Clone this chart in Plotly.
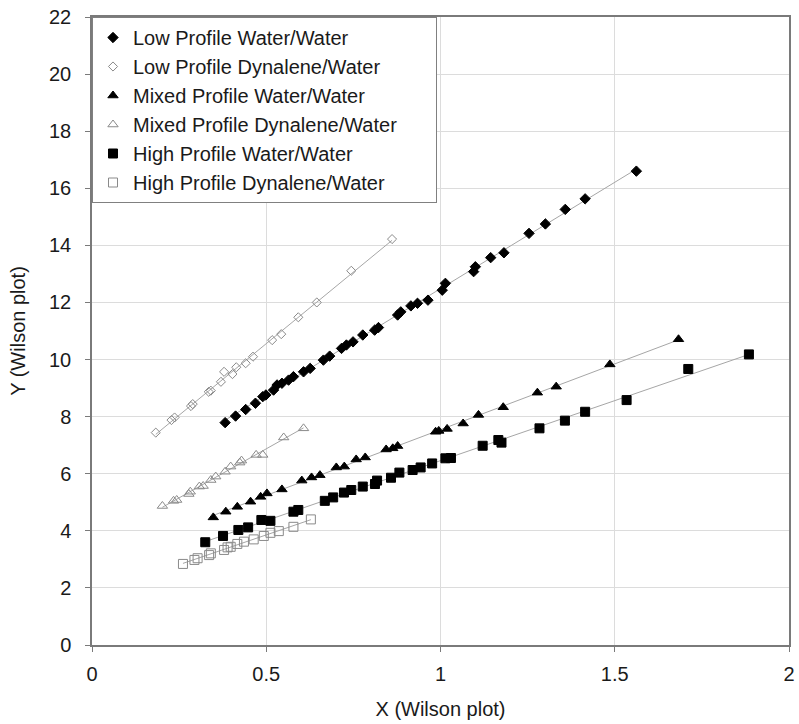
import numpy as np
import plotly.graph_objects as go

# ---- data ----
low_ww_x = [0.382, 0.412, 0.441, 0.469, 0.490, 0.499, 0.521, 0.531, 0.545, 0.564, 0.578, 0.607, 0.626,
            0.664, 0.682, 0.716, 0.730, 0.749, 0.777, 0.811, 0.822, 0.877, 0.886, 0.915, 0.934, 0.964,
            1.005, 1.014, 1.095, 1.100, 1.144, 1.182, 1.254, 1.301, 1.358, 1.415, 1.562]
low_ww_y = [7.79, 8.02, 8.25, 8.47, 8.70, 8.76, 8.93, 9.11, 9.17, 9.28, 9.40, 9.57, 9.69,
            9.98, 10.12, 10.39, 10.51, 10.62, 10.86, 11.03, 11.12, 11.56, 11.67, 11.88, 11.97, 12.08,
            12.43, 12.67, 13.08, 13.25, 13.57, 13.74, 14.42, 14.75, 15.26, 15.63, 16.60]

low_dw_x = [0.183, 0.228, 0.237, 0.284, 0.289, 0.335, 0.341, 0.370, 0.379, 0.403, 0.414, 0.441, 0.462,
            0.517, 0.543, 0.592, 0.645, 0.744, 0.861]
low_dw_y = [7.44, 7.88, 7.97, 8.37, 8.44, 8.87, 8.91, 9.22, 9.57, 9.49, 9.73, 9.87, 10.10,
            10.68, 10.89, 11.48, 12.00, 13.11, 14.22]

mix_ww_x = [0.348, 0.384, 0.417, 0.455, 0.484, 0.502, 0.545, 0.602, 0.630, 0.654, 0.701, 0.724, 0.758,
            0.784, 0.844, 0.863, 0.877, 0.986, 0.995, 1.019, 1.065, 1.109, 1.180, 1.278, 1.332, 1.486, 1.683]
mix_ww_y = [4.47, 4.67, 4.84, 5.02, 5.19, 5.31, 5.45, 5.76, 5.87, 5.95, 6.22, 6.25, 6.50,
            6.57, 6.85, 6.89, 6.97, 7.47, 7.50, 7.57, 7.76, 8.06, 8.33, 8.84, 9.05, 9.83, 10.71]

mix_dw_x = [0.202, 0.234, 0.243, 0.278, 0.282, 0.308, 0.319, 0.341, 0.355, 0.382, 0.398, 0.424, 0.429,
            0.471, 0.490, 0.550, 0.607]
mix_dw_y = [4.87, 5.05, 5.08, 5.29, 5.37, 5.55, 5.57, 5.78, 5.90, 6.07, 6.25, 6.39, 6.46,
            6.66, 6.66, 7.27, 7.59]

high_ww_x = [0.325, 0.376, 0.420, 0.448, 0.486, 0.512, 0.578, 0.592, 0.668, 0.692, 0.723, 0.744, 0.777,
             0.812, 0.818, 0.858, 0.882, 0.920, 0.943, 0.976, 1.014, 1.030, 1.121, 1.166, 1.175, 1.284,
             1.357, 1.415, 1.534, 1.711, 1.885]
high_ww_y = [3.60, 3.82, 4.03, 4.12, 4.38, 4.35, 4.67, 4.73, 5.05, 5.17, 5.34, 5.43, 5.55,
             5.64, 5.76, 5.86, 6.04, 6.13, 6.22, 6.36, 6.54, 6.55, 6.98, 7.18, 7.09, 7.59,
             7.86, 8.17, 8.58, 9.67, 10.18]

high_dw_x = [0.261, 0.294, 0.303, 0.336, 0.341, 0.379, 0.389, 0.398, 0.417, 0.436, 0.464, 0.493, 0.512,
             0.536, 0.578, 0.628]
high_dw_y = [2.84, 2.98, 3.04, 3.15, 3.21, 3.33, 3.42, 3.44, 3.54, 3.62, 3.70, 3.82, 3.93,
             3.99, 4.14, 4.40]

names = ["Low Profile Water/Water", "Low Profile Dynalene/Water", "Mixed Profile Water/Water",
         "Mixed Profile Dynalene/Water", "High Profile Water/Water", "High Profile Dynalene/Water"]

x_ticks = [0, 0.5, 1, 1.5, 2]
x_ticklabels = ["0", "0.5", "1", "1.5", "2"]
y_ticks = list(range(0, 23, 2))

FONT = "Arial, 'Liberation Sans', sans-serif"
GRAY_MARK = "#8a8a8a"
LINE_GRAY = "#a6a6a6"

series = [
    (low_ww_x, low_ww_y, "diamond", 8, "black", "black"),
    (low_dw_x, low_dw_y, "diamond-open", 7, GRAY_MARK, GRAY_MARK),
    (mix_ww_x, mix_ww_y, "triangle-up", 9, "black", "black"),
    (mix_dw_x, mix_dw_y, "triangle-up-open", 9, GRAY_MARK, GRAY_MARK),
    (high_ww_x, high_ww_y, "square", 9, "black", "black"),
    (high_dw_x, high_dw_y, "square-open", 9, GRAY_MARK, GRAY_MARK),
]

fig = go.Figure()

# trend lines (linear fit through each series)
for xs, ys, *_ in series:
    xa, ya = np.array(xs), np.array(ys)
    k, b = np.polyfit(xa, ya, 1)
    lx = np.array([xa.min(), xa.max()])
    fig.add_trace(go.Scatter(x=lx, y=k * lx + b, mode="lines",
                             line=dict(color=LINE_GRAY, width=1),
                             showlegend=False, hoverinfo="skip"))

for (xs, ys, sym, size, col, lcol), name in zip(series, names):
    label = name
    if name == "Mixed Profile Dynalene/Water":
        label = name + "\u00a0" * 6
    fig.add_trace(go.Scatter(
        x=xs, y=ys, mode="markers", name=label,
        marker=dict(symbol=sym, size=size, color=col,
                    line=dict(color=lcol, width=1)),
    ))

fig.update_layout(
    width=799, height=724,
    margin=dict(l=92, r=4, t=17, b=79),
    paper_bgcolor="white", plot_bgcolor="white",
    font=dict(family=FONT, size=20, color="#1a1a1a"),
    showlegend=True,
    legend=dict(x=0, y=1, xanchor="left", yanchor="top",
                bgcolor="white", bordercolor="#808080", borderwidth=1,
                font=dict(family=FONT, size=20, color="#1a1a1a"),
                tracegroupgap=0, itemsizing="trace"),
)

fig.update_xaxes(
    range=[0, 2], tickvals=x_ticks, ticktext=x_ticklabels,
    showgrid=True, gridcolor="#dcdcdc", gridwidth=1,
    showline=True, linecolor="#7a7a7a", linewidth=1.5, mirror=True,
    ticks="outside", ticklen=5, tickcolor="#7a7a7a",
    zeroline=False, ticklabelstandoff=5,
    title=dict(text="X (Wilson plot)", font=dict(size=20, family=FONT), standoff=18),
    tickfont=dict(size=20, family=FONT),
)
fig.update_yaxes(
    range=[0, 22], tickvals=y_ticks,
    showgrid=True, gridcolor="#dcdcdc", gridwidth=1,
    showline=True, linecolor="#7a7a7a", linewidth=1.5, mirror=True,
    ticks="outside", ticklen=5, tickcolor="#7a7a7a",
    zeroline=False, ticklabelstandoff=10,
    title=dict(text="Y (Wilson plot)", font=dict(size=20, family=FONT), standoff=18),
    tickfont=dict(size=20, family=FONT),
)

fig.write_html("out.html")
